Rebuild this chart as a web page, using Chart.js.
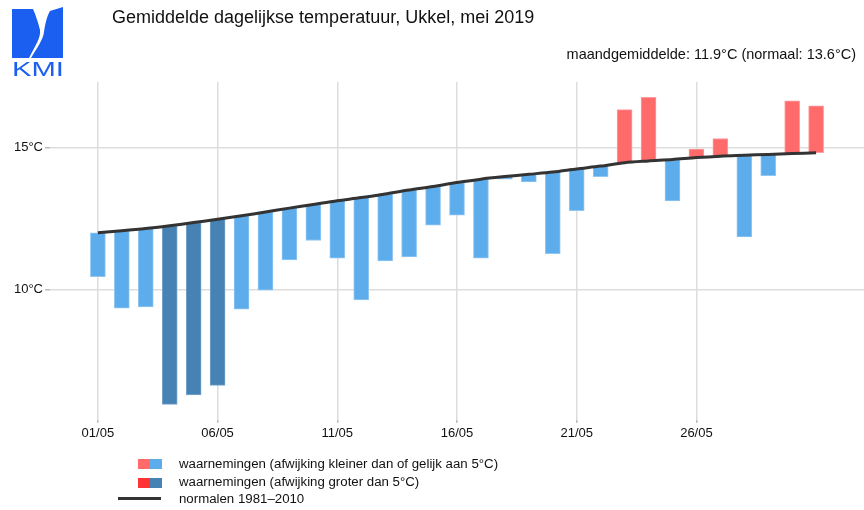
<!DOCTYPE html>
<html>
<head>
<meta charset="utf-8">
<script src="https://cdn.jsdelivr.net/npm/chart.js@4/dist/chart.umd.min.js"></script>
<style>
  body { margin: 0; background: #fff; font-family: "Liberation Sans", Arial, sans-serif; color: #111; }
  #wrap { position: relative; width: 864px; height: 510px; overflow: hidden; }
  #chart { position: absolute; left: 0; top: 0; }
  .txt { position: absolute; white-space: nowrap; }
  #title { left: 112px; top: 7px; font-size: 18px; }
  #sub { right: 8px; top: 46px; font-size: 14.5px; }
  .sw { position: absolute; width: 12px; height: 10px; }
  .leg { position: absolute; left: 179px; font-size: 13.25px; }
</style>
</head>
<body>
<div id="wrap">
  <canvas id="chart" width="864" height="510"></canvas>

  <svg class="txt" style="left:0;top:0" width="80" height="80">
    <path d="M12 9 L33 9 C36 16 38 22 40 30 C41 38 35 46 29 58 L12 58 Z" fill="#1b5ff0"/>
    <path d="M50 11 L63 7 L63 58 L31 58 C37 48 43 40 44 32 C45 24 47 16 50 11 Z" fill="#1b5ff0"/>
    <text x="12" y="76" font-family="Liberation Sans, Arial" font-size="20" fill="#1b5ff0"
          textLength="52" lengthAdjust="spacingAndGlyphs">KMI</text>
  </svg>

  <div id="title" class="txt">Gemiddelde dagelijkse temperatuur, Ukkel, mei 2019</div>
  <div id="sub" class="txt">maandgemiddelde: 11.9°C (normaal: 13.6°C)</div>

  <div class="sw" style="left:138px;top:459px;background:#ff6b6b"></div>
  <div class="sw" style="left:150px;top:459px;background:#5dadec"></div>
  <div class="leg" style="top:456px">waarnemingen (afwijking kleiner dan of gelijk aan 5°C)</div>

  <div class="sw" style="left:138px;top:478px;background:#ff3333"></div>
  <div class="sw" style="left:150px;top:478px;background:#4682b4"></div>
  <div class="leg" style="top:474px">waarnemingen (afwijking groter dan 5°C)</div>

  <div class="sw" style="left:118px;top:497px;width:43px;height:3px;background:#333"></div>
  <div class="leg" style="top:491px">normalen 1981–2010</div>
</div>

<script>
// dagen van mei 2019
const days = [1, 2, 3, 4, 5, 6, 7, 8, 9, 10, 11, 12, 13, 14, 15, 16,
              17, 18, 19, 20, 21, 22, 23, 24, 25, 26, 27, 28, 29, 30, 31];

// gemiddelde dagtemperatuur (waarnemingen)
const observed = [10.46, 9.35, 9.39, 5.96, 6.29, 6.63, 9.31, 9.98, 11.05, 11.73, 11.11,
                  9.64, 11.01, 11.15, 12.27, 12.62, 11.11, 13.89, 13.79, 11.27, 12.78,
                  13.98, 16.34, 16.77, 13.12, 14.95, 15.32, 11.86, 14.01, 16.65, 16.47];

// normalen 1981-2010
const normals = [12.0, 12.07, 12.15, 12.25, 12.36, 12.48, 12.6, 12.73, 12.87, 13.0, 13.13,
                 13.24, 13.37, 13.51, 13.63, 13.77, 13.89, 13.98, 14.06, 14.14, 14.25,
                 14.35, 14.47, 14.53, 14.58, 14.65, 14.70, 14.73, 14.76, 14.79, 14.82];

const xTicks = [1, 6, 11, 16, 21, 26];
const yTicks = [10, 15];

function barColor(i) {
    let dev = observed[i] - normals[i];
    if (dev > 0) return Math.abs(dev) > 5 ? "#ff3333" : "#ff6b6b";
    return Math.abs(dev) > 5 ? "#4682b4" : "#5dadec";
}

function barEdge(i) {
    let dev = observed[i] - normals[i];
    if (dev > 0) return Math.abs(dev) > 5 ? "#ff8080" : "#ff9c9c";
    return Math.abs(dev) > 5 ? "#7aa6cc" : "#92c7f2";
}

const ctx = document.getElementById("chart").getContext("2d");

new Chart(ctx, {
    data: {
        datasets: [
            {
                type: "line",
                order: 0,
                data: days.map((d, i) => ({ x: d, y: normals[i] })),
                borderColor: "#333333",
                borderWidth: 3,
                pointRadius: 0,
                tension: 0.3
            },
            {
                type: "bar",
                order: 1,
                data: days.map((d, i) => ({ x: d, y: [normals[i], observed[i]] })),
                backgroundColor: days.map((d, i) => barColor(i)),
                borderColor: days.map((d, i) => barEdge(i)),
                borderWidth: 1,
                borderSkipped: false,
                barThickness: 15
            }
        ]
    },
    options: {
        responsive: false,
        animation: false,
        layout: { padding: { top: 82, left: 0, right: 0, bottom: 0 } },
        plugins: {
            legend: { display: false },
            tooltip: { enabled: false }
        },
        scales: {
            x: {
                type: "linear",
                min: -1,
                max: 33,
                offset: false,
                afterFit: (scale) => { scale.height = 90; },
                afterBuildTicks: (scale) => { scale.ticks = xTicks.map(v => ({ value: v })); },
                grid: { offset: false, color: "#dddddd", lineWidth: 1.5, tickLength: 3, tickColor: "#bbbbbb" },
                border: { display: false },
                ticks: {
                    padding: 3,
                    color: "#111",
                    font: { family: "Liberation Sans", size: 13 },
                    maxRotation: 0,
                    callback: (v) => String(v).padStart(2, "0") + "/05"
                }
            },
            y: {
                min: 5.41,
                max: 17.31,
                afterFit: (scale) => { scale.width = 50; },
                afterBuildTicks: (scale) => { scale.ticks = yTicks.map(v => ({ value: v })); },
                grid: { color: "#dddddd", lineWidth: 1.5, tickLength: 5, tickColor: "#bbbbbb" },
                border: { display: false },
                ticks: {
                    padding: 2,
                    color: "#111",
                    font: { family: "Liberation Sans", size: 13 },
                    callback: (v) => v + "°C"
                }
            }
        }
    }
});
</script>
</body>
</html>
